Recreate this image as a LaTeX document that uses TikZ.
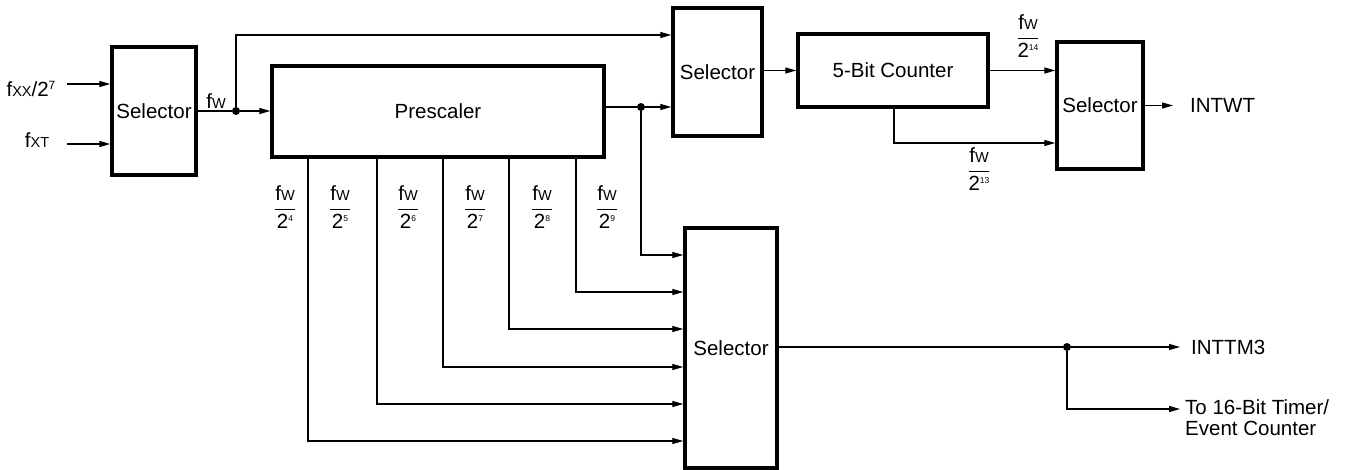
\documentclass[tikz,border=0pt]{standalone}
\usepackage{fontspec}
\setmainfont{Liberation Sans}
\usetikzlibrary{arrows.meta,calc}
\newcommand\smc[1]{{\fontsize{14.5}{15}\selectfont #1}}
\newcommand\fW{f\smc{W}}
\newcommand\fwfrac[1]{$\displaystyle\frac{\mbox{\fW}}{\mbox{2\raisebox{7pt}{\fontsize{8.5}{8.5}\selectfont #1}}}$}
\begin{document}
\begin{tikzpicture}[x=1pt,y=-1pt, font=\fontsize{20.5}{24}\selectfont,
  blk/.style={draw, line width=3.4pt, inner sep=0pt},
  wire/.style={line width=1.2pt},
  arr/.style={wire, -{Triangle[length=11pt,width=6pt]}},
  dot/.style={circle, fill, inner sep=0pt, minimum size=8pt},
  lbl/.style={inner sep=0pt}]
\useasboundingbox (0,0) rectangle (1352,470);
% blocks
\node[blk, minimum width=84pt, minimum height=128pt] (sel1) at (154,111) {Selector};
\node[blk, minimum width=332pt, minimum height=91pt] (pre) at (438,111.5) {Prescaler};
\node[blk, minimum width=89pt, minimum height=128pt] (sel2) at (717.5,72) {Selector};
\node[blk, minimum width=190pt, minimum height=73pt] (cnt) at (893,70.5) {5-Bit Counter};
\node[blk, minimum width=86pt, minimum height=127pt] (sel3) at (1100,105.5) {Selector};
\node[blk, minimum width=92pt, minimum height=240pt] (sel4) at (731,348) {Selector};
% inputs
\coordinate (in1) at (67,84);
\coordinate (in2) at (67,144);
\draw[arr] (in1) -- (in1 -| sel1.west);
\draw[arr] (in2) -- (in2 -| sel1.west);
\node[lbl] (lin1) at (31,89) {f\smc{XX}/2\raisebox{7pt}{\fontsize{12}{12}\selectfont 7}};
\node[lbl] (lin2) at (37,140) {f\smc{XT}};
% fw
\node[dot] (j1) at (236,111) {};
\draw[wire] (sel1.east |- j1) -- (j1);
\draw[arr] (j1) -- (pre.west |- j1);
\node[lbl] (lfw) at (216,101) {\fW};
\coordinate (c1) at (236,35);
\draw[arr] (j1) -- (c1) -- (c1 -| sel2.west);
% prescaler output
\node[dot] (j2) at (641,107) {};
\draw[wire] (pre.east |- j2) -- (j2);
\draw[arr] (j2) -- (sel2.west |- j2);
\coordinate (t0) at (641,255);
\draw[arr] (j2) -- (t0) -- (t0 -| sel4.west);
% taps
\foreach \n/\x/\y in {a/308/441, b/377/404, c/443/367, d/509/329, e/576/292}{
  \coordinate (tap\n) at (\x,\y);
  \draw[arr] (pre.south -| tap\n) -- (tap\n) -- (tap\n -| sel4.west);
}
\node[lbl] (f4) at (285,207) {\fwfrac{4}};
\node[lbl] (f5) at (340,207) {\fwfrac{5}};
\node[lbl] (f6) at (408,207) {\fwfrac{6}};
\node[lbl] (f7) at (475,207) {\fwfrac{7}};
\node[lbl] (f8) at (542,207) {\fwfrac{8}};
\node[lbl] (f9) at (607,207) {\fwfrac{9}};
% counter
\draw[arr] (sel2.east |- cnt) -- (cnt.west);
\draw[arr] (cnt.east) -- (cnt.east -| sel3.west);
\coordinate (c2) at (894,143);
\draw[arr] (cnt.south -| c2) -- (c2) -- (c2 -| sel3.west);
\node[lbl] (f14) at (1028,36) {\fwfrac{14}};
\node[lbl] (f13) at (979,169) {\fwfrac{13}};
% outputs
\coordinate (o1) at (1173,105.5);
\draw[arr] (sel3.east) -- (o1);
\node[lbl, anchor=west] (lintwt) at (1190,105.5) {INTWT};
\node[dot] (j3) at (1067,347) {};
\draw[wire] (sel4.east |- j3) -- (j3);
\coordinate (o2) at (1180,347);
\draw[arr] (j3) -- (o2);
\node[lbl, anchor=west] (linttm) at (1191,347) {INTTM3};
\coordinate (c3) at (1067,409);
\coordinate (o3) at (1180,409);
\draw[arr] (j3) -- (c3) -- (o3);
\node[lbl, anchor=west, align=left, font=\fontsize{20.5}{21}\selectfont] (lto) at (1185,418) {To 16-Bit Timer/\\Event Counter};
\end{tikzpicture}
\end{document}
